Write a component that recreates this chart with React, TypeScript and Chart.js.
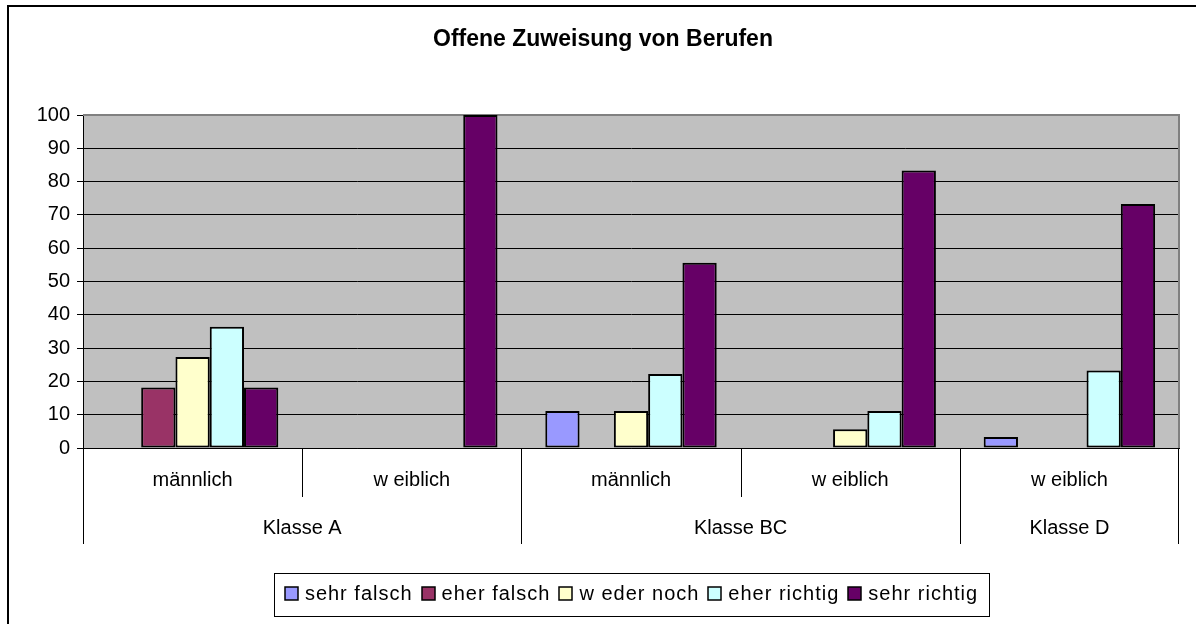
import React, { useEffect, useRef } from "react";
import { Chart, registerables } from "chart.js";

Chart.register(...registerables);

const chartTitle = "Offene Zuweisung von Berufen";
const subCategories = ["männlich", "w eiblich", "männlich", "w eiblich", "w eiblich"];
const groupCategories = ["Klasse A", "Klasse A", "Klasse BC", "Klasse BC", "Klasse D"];
const seriesNames = ["sehr falsch", "eher falsch", "w eder noch", "eher richtig", "sehr richtig"];
const seriesColors = ["#9999FF", "#993366", "#FFFFCC", "#CCFFFF", "#660066"];

const sehrFalsch = [0, 0, 11.1, 0, 3.3];
const eherFalsch = [18.2, 0, 0, 0, 0];
const wederNoch = [27.3, 0, 11.1, 5.6, 0];
const eherRichtig = [36.4, 0, 22.2, 11.1, 23.3];
const sehrRichtig = [18.2, 100, 55.6, 83.3, 73.3];
const seriesValues = [sehrFalsch, eherFalsch, wederNoch, eherRichtig, sehrRichtig];

const yTicks = [0, 10, 20, 30, 40, 50, 60, 70, 80, 90, 100];

const FONT = "'Liberation Sans', Arial, sans-serif";

const decorPlugin = {
  id: "decor",
  beforeDraw(chart: any) {
    const { ctx, chartArea } = chart;
    ctx.save();
    ctx.fillStyle = "#ffffff";
    ctx.fillRect(0, 0, chart.width, chart.height);
    ctx.fillStyle = "#C0C0C0";
    ctx.fillRect(chartArea.left, chartArea.top, chartArea.right - chartArea.left, chartArea.bottom - chartArea.top);
    ctx.restore();
  },
  beforeDatasetsDraw(chart: any) {
    const { ctx, chartArea } = chart;
    ctx.save();
    ctx.strokeStyle = "#808080";
    ctx.lineWidth = 2;
    ctx.beginPath();
    ctx.moveTo(chartArea.left, chartArea.top);
    ctx.lineTo(chartArea.right, chartArea.top);
    ctx.lineTo(chartArea.right, chartArea.bottom);
    ctx.stroke();
    ctx.restore();
  },
  afterDraw(chart: any) {
    const { ctx, chartArea } = chart;
    const x = chart.scales.x;
    ctx.save();
    // outer frame
    ctx.fillStyle = "#000";
    ctx.fillRect(7, 5, chart.width - 7, 2);
    ctx.fillRect(7, 5, 2, chart.height - 5);

    // title
    ctx.font = `bold 23px ${FONT}`;
    ctx.textAlign = "center";
    ctx.textBaseline = "middle";
    ctx.fillText(chartTitle, 603, 40);

    // multi-level category axis
    const n = subCategories.length;
    const w = n > 1 ? x.getPixelForValue(1) - x.getPixelForValue(0) : chartArea.right - chartArea.left;
    const bottom = chartArea.bottom;
    ctx.strokeStyle = "#000";
    ctx.lineWidth = 1;
    ctx.font = `20px ${FONT}`;
    ctx.fillStyle = "#000";
    for (let i = 0; i < n; i++) {
      const c = x.getPixelForValue(i);
      ctx.fillText(subCategories[i], c, 480);
      const left = Math.round(c - w / 2) + 0.5;
      const isGroupStart = i === 0 || groupCategories[i] !== groupCategories[i - 1];
      ctx.beginPath();
      ctx.moveTo(left, bottom);
      ctx.lineTo(left, isGroupStart ? bottom + 96 : bottom + 49);
      ctx.stroke();
    }
    const lastRight = Math.round(x.getPixelForValue(n - 1) + w / 2) - 0.5;
    ctx.beginPath();
    ctx.moveTo(lastRight, bottom);
    ctx.lineTo(lastRight, bottom + 96);
    ctx.stroke();
    // group labels
    let start = 0;
    for (let i = 1; i <= n; i++) {
      if (i === n || groupCategories[i] !== groupCategories[start]) {
        const l = x.getPixelForValue(start) - w / 2;
        const r = x.getPixelForValue(i - 1) + w / 2;
        ctx.fillText(groupCategories[start], (l + r) / 2, 528);
        start = i;
      }
    }

    // legend
    const boxL = 274, boxR = 989, boxT = 573, boxB = 616;
    ctx.lineWidth = 1;
    ctx.strokeStyle = "#000";
    ctx.strokeRect(boxL + 0.5, boxT + 0.5, boxR - boxL, boxB - boxT);
    ctx.font = `20px ${FONT}`;
    (ctx as any).letterSpacing = "1px";
    ctx.textAlign = "left";
    const sq = 13, gapSq = 7, gapItem = 9;
    const widths = seriesNames.map((s) => ctx.measureText(s).width);
    const total = widths.reduce((a, b) => a + b, 0) + seriesNames.length * (sq + gapSq) + gapItem * (seriesNames.length - 1);
    let px = (boxL + boxR) / 2 - total / 2;
    const cy = 594;
    seriesNames.forEach((s, i) => {
      ctx.fillStyle = seriesColors[i];
      ctx.fillRect(Math.round(px), cy - 7, sq, sq);
      ctx.strokeStyle = "#000";
      ctx.lineWidth = 1.5;
      ctx.strokeRect(Math.round(px), cy - 7, sq, sq);
      ctx.fillStyle = "#000";
      ctx.fillText(s, px + sq + gapSq, cy);
      px += sq + gapSq + widths[i] + gapItem;
    });
    (ctx as any).letterSpacing = "0px";
    ctx.restore();
  },
};

export default function App() {
  const ref = useRef<HTMLCanvasElement | null>(null);
  useEffect(() => {
    if (!ref.current) return;
    const chart = new Chart(ref.current, {
      type: "bar",
      data: {
        labels: subCategories.map((s, i) => `${groupCategories[i]} ${s}`),
        datasets: seriesNames.map((name, i) => ({
          label: name,
          data: seriesValues[i],
          backgroundColor: seriesColors[i],
          borderColor: "#000",
          borderWidth: 2,
          borderSkipped: false,
          barPercentage: 1,
          categoryPercentage: 0.782,
        })),
      },
      options: {
        animation: false,
        responsive: false,
        devicePixelRatio: 1,
        layout: { padding: { top: 115, right: 17, left: 0, bottom: 0 } },
        plugins: {
          legend: { display: false },
          title: { display: false },
          tooltip: { enabled: false },
        },
        scales: {
          x: {
            type: "category",
            offset: true,
            grid: { display: false },
            ticks: { display: false },
            border: { display: true, color: "#000", width: 1 },
            afterFit: (scale: any) => {
              scale.height = 176;
            },
          },
          y: {
            min: 0,
            max: 100,
            afterBuildTicks: (scale: any) => {
              scale.ticks = yTicks.map((v) => ({ value: v }));
            },
            ticks: {
              color: "#000",
              font: { family: FONT, size: 20 },
              padding: 7,
            },
            grid: {
              color: "#000",
              lineWidth: 1,
              tickLength: 6,
              drawTicks: true,
            },
            border: { display: true, color: "#000", width: 1 },
            afterFit: (scale: any) => {
              scale.width = 83;
            },
          },
        },
      },
      plugins: [decorPlugin],
    } as any);
    return () => chart.destroy();
  }, []);
  return (
    <div style={{ position: "absolute", left: 0, top: 0, width: 1196, height: 624 }}>
      <canvas ref={ref} width={1196} height={624} style={{ width: 1196, height: 624, display: "block" }} />
    </div>
  );
}
